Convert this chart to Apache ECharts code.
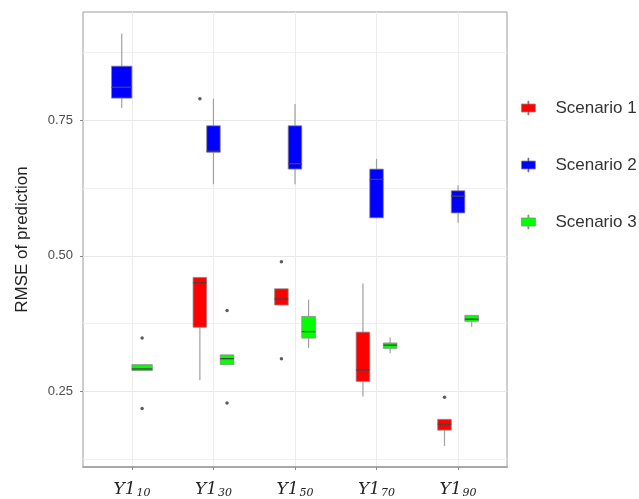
<!DOCTYPE html>
<html>
<head>
<meta charset="utf-8">
<script src="https://cdn.jsdelivr.net/npm/echarts@6/dist/echarts.min.js"></script>
<style>html,body{margin:0;padding:0;background:#fff;}#c{width:639px;height:499px;}</style>
</head>
<body>
<div id="c"></div>
<script>
// ---- data ----
var categories = ['10', '30', '50', '70', '90'];       // subscripts of Y1
var seriesNames = ['Scenario 1', 'Scenario 2', 'Scenario 3'];
var seriesColors = ['#ff0000', '#0000ff', '#00ff00'];
// [min, Q1, median, Q3, max]; null = no box
var scenario1 = [null,
  [0.270, 0.368, 0.450, 0.460, 0.460],
  [0.409, 0.409, 0.420, 0.439, 0.439],
  [0.240, 0.268, 0.289, 0.359, 0.449],
  [0.149, 0.178, 0.189, 0.198, 0.198]];
var scenario2 = [
  [0.773, 0.791, 0.811, 0.850, 0.910],
  [0.632, 0.691, 0.693, 0.740, 0.790],
  [0.632, 0.660, 0.670, 0.740, 0.780],
  [0.570, 0.570, 0.641, 0.660, 0.679],
  [0.561, 0.579, 0.610, 0.620, 0.630]];
var scenario3 = [
  [0.288, 0.288, 0.291, 0.299, 0.299],
  [0.299, 0.299, 0.310, 0.317, 0.317],
  [0.330, 0.348, 0.360, 0.388, 0.419],
  [0.320, 0.329, 0.335, 0.339, 0.349],
  [0.369, 0.379, 0.383, 0.390, 0.390]];
var outliers1 = [[], [0.790], [0.489, 0.310], [], [0.239]];
var outliers2 = [[], [], [], [], []];
var outliers3 = [[0.348, 0.218], [0.399, 0.228], [], [], []];
var yLabelValues = [0.25, 0.50, 0.75];
var yMinorValues = [0.125, 0.375, 0.625, 0.875];

// ---- build ----
var stats = [scenario1, scenario2, scenario3];
var outs = [outliers1, outliers2, outliers3];
var dodgeWidth = 0.5;

function slotInfo(s, i) {
  var present = [];
  for (var k = 0; k < stats.length; k++) if (stats[k][i]) present.push(k);
  var n = present.length, j = present.indexOf(s);
  var w = dodgeWidth / n;
  return { x: i + 1 - dodgeWidth / 2 + (j + 0.5) * w, w: w };
}

var boxIcon = 'path://M6.5,0 L7.5,0 L7.5,3 L14,3 L14,11 L7.5,11 L7.5,14 L6.5,14 L6.5,11 L0,11 L0,3 L6.5,3 Z';

var series = [];
stats.forEach(function (arr, s) {
  var data = [];
  arr.forEach(function (v, i) {
    if (!v) return;
    var si = slotInfo(s, i);
    data.push([si.x, v[0], v[1], v[2], v[3], v[4], si.w]);
  });
  series.push({
    name: seriesNames[s],
    type: 'custom',
    itemStyle: { color: seriesColors[s] },
    encode: { x: 0, y: [1, 2, 3, 4, 5] },
    data: data,
    renderItem: function (params, api) {
      var x = api.value(0), w = api.value(6);
      var half = api.size([w, 0])[0] / 2;
      var pMin = api.coord([x, api.value(1)]);
      var pQ1 = api.coord([x, api.value(2)]);
      var pMed = api.coord([x, api.value(3)]);
      var pQ3 = api.coord([x, api.value(4)]);
      var pMax = api.coord([x, api.value(5)]);
      var cx = pQ1[0];
      return {
        type: 'group',
        children: [
          { type: 'line', shape: { x1: cx, y1: pMax[1], x2: cx, y2: pQ3[1] }, style: { stroke: '#a0a0a0', lineWidth: 1.2 } },
          { type: 'line', shape: { x1: cx, y1: pQ1[1], x2: cx, y2: pMin[1] }, style: { stroke: '#a0a0a0', lineWidth: 1.2 } },
          { type: 'rect', shape: { x: cx - half, y: pQ3[1], width: 2 * half, height: pQ1[1] - pQ3[1] },
            style: { fill: seriesColors[s], stroke: '#8a8a8a', lineWidth: 0.8 } },
          { type: 'line', shape: { x1: cx - half, y1: pMed[1], x2: cx + half, y2: pMed[1] }, style: { stroke: '#444', lineWidth: 1.3 } }
        ]
      };
    }
  });
});
outs.forEach(function (arr, s) {
  var data = [];
  arr.forEach(function (vals, i) {
    vals.forEach(function (v) { data.push([slotInfo(s, i).x, v]); });
  });
  series.push({
    name: seriesNames[s] + ' outliers',
    type: 'scatter',
    symbolSize: 3.5,
    itemStyle: { color: '#333' },
    data: data,
    silent: true
  });
});

var chart = echarts.init(document.getElementById('c'), null, { renderer: 'canvas' });
chart.setOption({
  backgroundColor: '#fff',
  animation: false,
  grid: { left: 83, right: 132, top: 12, bottom: 32, show: true, borderColor: '#9c9c9c', borderWidth: 1, backgroundColor: '#fff' },
  legend: {
    orient: 'vertical',
    left: 516,
    top: 93,
    itemWidth: 44,
    itemHeight: 14,
    itemGap: 37,
    data: seriesNames.map(function (n, i) {
      return { name: n, icon: boxIcon, itemStyle: { color: seriesColors[i], borderColor: '#8a8a8a', borderWidth: 0.8 } };
    }),
    textStyle: { fontFamily: 'Liberation Sans, Arial, sans-serif', fontSize: 17, color: '#333', lineHeight: 20 }
  },
  xAxis: {
    type: 'value', min: 0.4, max: 5.6,
    axisLine: { show: true, lineStyle: { color: '#a8a8a8', width: 2 } },
    axisTick: { show: true, length: 3, customValues: [1, 2, 3, 4, 5], lineStyle: { color: '#8a8a8a' } },
    axisLabel: {
      customValues: [1, 2, 3, 4, 5], margin: 14,
      formatter: function (v) { return '{a|Y1}{b|' + categories[Math.round(v) - 1] + '}'; },
      rich: {
        a: { fontFamily: 'DejaVu Serif', fontStyle: 'italic', fontSize: 17, color: '#222' },
        b: { fontFamily: 'DejaVu Serif', fontStyle: 'italic', fontSize: 11, color: '#222', padding: [7, 0, 0, 1] }
      }
    },
    splitLine: { show: true, lineStyle: { color: '#ececec', width: 1 } }
  },
  yAxis: [{
    type: 'value', min: 0.11, max: 0.95,
    name: 'RMSE of prediction', nameLocation: 'middle', nameRotate: 90, nameGap: 52,
    nameTextStyle: { fontFamily: 'Liberation Sans, Arial, sans-serif', fontSize: 17, color: '#222' },
    axisLine: { show: false },
    axisTick: { show: true, length: 3, customValues: yLabelValues, lineStyle: { color: '#8a8a8a' } },
    axisLabel: {
      customValues: yLabelValues, margin: 10,
      formatter: function (v) { return v.toFixed(2); },
      fontFamily: 'Liberation Sans, Arial, sans-serif', fontSize: 13, color: '#4d4d4d'
    },
    splitLine: { show: true, lineStyle: { color: '#e8e8e8', width: 1 } }
  }, {
    type: 'value', min: 0.11, max: 0.95, position: 'left',
    axisLine: { show: false },
    axisTick: { show: false, customValues: yMinorValues },
    axisLabel: { show: false },
    splitLine: { show: true, lineStyle: { color: '#f0f0f0', width: 1 } }
  }],
  series: series
});
</script>
</body>
</html>
